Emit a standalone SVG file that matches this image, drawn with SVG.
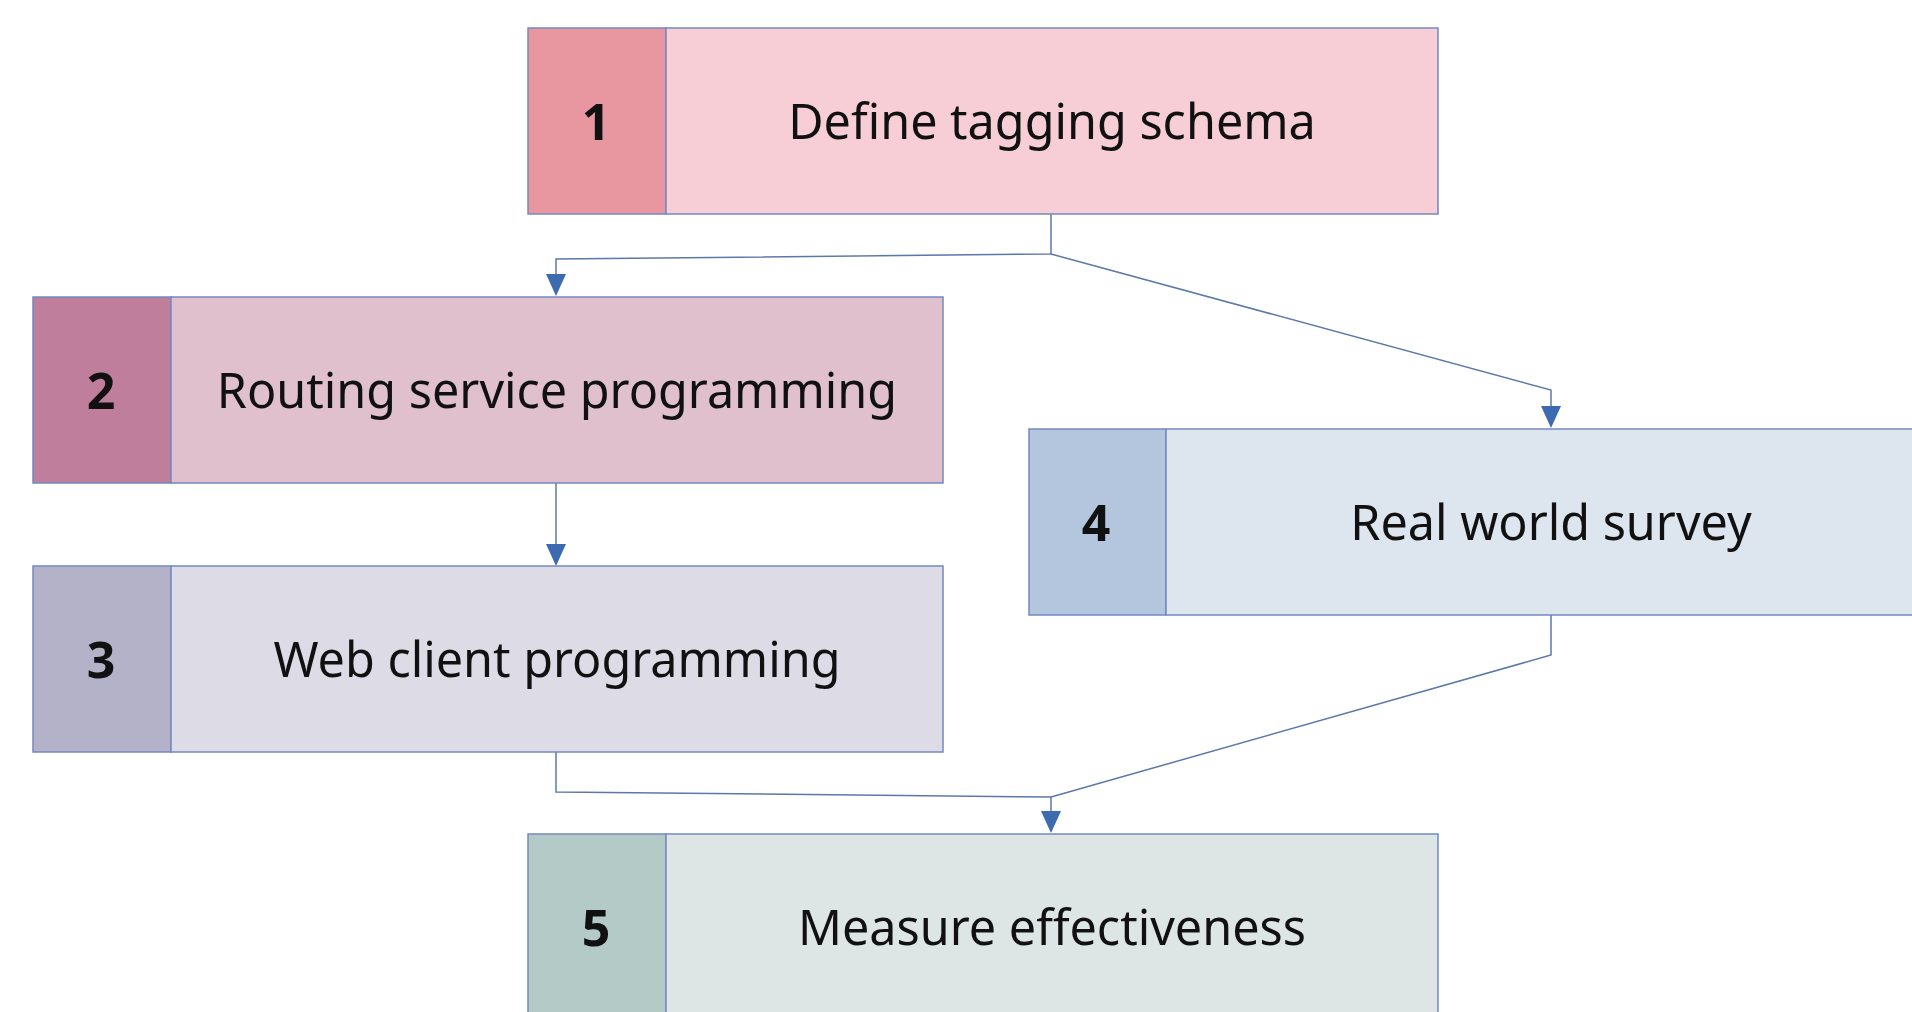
<svg xmlns="http://www.w3.org/2000/svg" width="1912" height="1012" viewBox="0 0 1912 1012">
<defs>
<style>
.box{stroke:#7389c0;stroke-width:1.5}
.num{font-family:"Noto Sans","Open Sans",sans-serif;font-weight:bold;font-size:50px;fill:#111;text-anchor:middle;dominant-baseline:central}
.lbl{font-family:"Noto Sans","Open Sans",sans-serif;font-size:48.5px;fill:#111;text-anchor:middle;dominant-baseline:central}
.con{fill:none;stroke:#5c78ab;stroke-width:1.5}
.head{fill:#3d6bb0}
</style>
</defs>
<rect width="1912" height="1012" fill="#ffffff"/>
<g id="connectors">
<path class="con" d="M1051,214 L1051,254 L556,259 L556,278"/>
<path class="head" d="M546,274 L566,274 L556,296 Z"/>
<path class="con" d="M1051,254 L1551,390 L1551,410"/>
<path class="head" d="M1541,406 L1561,406 L1551,428 Z"/>
<path class="con" d="M556,483 L556,548"/>
<path class="head" d="M546,544 L566,544 L556,566 Z"/>
<path class="con" d="M556,752 L556,792 L1051,797 L1051,815"/>
<path class="con" d="M1551,615 L1551,655 L1051,797"/>
<path class="head" d="M1041,811 L1061,811 L1051,833 Z"/>
</g>
<g id="node1">
<rect class="box" x="528" y="28" width="138" height="186" fill="#e8969f"/>
<rect class="box" x="666" y="28" width="772" height="186" fill="#f7ced5"/>
<text class="num" x="596" y="121">1</text>
<text class="lbl" x="1052" y="120">Define tagging schema</text>
</g>
<g id="node2">
<rect class="box" x="33" y="297" width="138" height="186" fill="#c07e9d"/>
<rect class="box" x="171" y="297" width="772" height="186" fill="#e0c0cc"/>
<text class="num" x="101" y="390">2</text>
<text class="lbl" x="557" y="389">Routing service programming</text>
</g>
<g id="node3">
<rect class="box" x="33" y="566" width="138" height="186" fill="#b4b2c9"/>
<rect class="box" x="171" y="566" width="772" height="186" fill="#dddce6"/>
<text class="num" x="101" y="659">3</text>
<text class="lbl" x="557" y="658">Web client programming</text>
</g>
<g id="node4">
<rect class="box" x="1029" y="429" width="137" height="186" fill="#b4c6dd"/>
<rect class="box" x="1166" y="429" width="772" height="186" fill="#dde5ef"/>
<text class="num" x="1096" y="522">4</text>
<text class="lbl" x="1551" y="521">Real world survey</text>
</g>
<g id="node5">
<rect class="box" x="528" y="834" width="138" height="186" fill="#b4cac6"/>
<rect class="box" x="666" y="834" width="772" height="186" fill="#dde6e4"/>
<text class="num" x="596" y="927">5</text>
<text class="lbl" x="1052" y="926">Measure effectiveness</text>
</g>
</svg>
